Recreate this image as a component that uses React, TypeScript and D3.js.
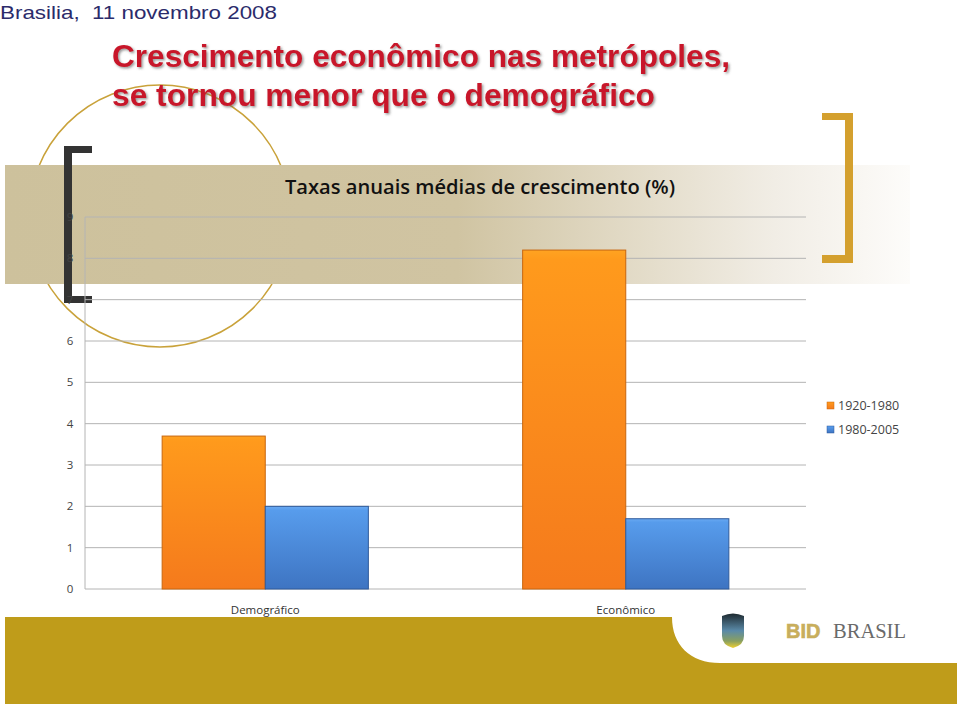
import React from "react";
import * as d3 from "d3";

const categories = ["Demográfico", "Econômico"];
const seriesNames = ["1920-1980", "1980-2005"];
const values1920to1980 = [3.7, 8.2];
const values1980to2005 = [2.0, 1.7];
const yTicks = [0, 1, 2, 3, 4, 5, 6, 7, 8, 9];

const W = 960;
const H = 706;

export default function App() {
  const x0 = d3.scaleBand<string>().domain(categories).range([85, 806]);
  const groupW = x0.bandwidth() * 0.572;
  const x1 = d3.scaleBand<string>().domain(seriesNames).range([0, groupW]);
  const y = d3.scaleLinear().domain([0, 9]).range([589, 217]);
  const seriesValues = [values1920to1980, values1980to2005];
  const fills = ["url(#gOrange)", "url(#gBlue)"];
  const strokes = ["#c8660e", "#2f5a9a"];

  const bottomPath = d3.path();
  bottomPath.moveTo(5, 617);
  bottomPath.lineTo(672, 617);
  bottomPath.bezierCurveTo(672, 645, 690, 663, 720, 663);
  bottomPath.lineTo(957, 663);
  bottomPath.lineTo(957, 704);
  bottomPath.lineTo(5, 704);
  bottomPath.closePath();

  return (
    <svg
      width={W}
      height={H}
      style={{ position: "absolute", left: 0, top: 0, display: "block", background: "#fff" }}
    >
      <defs>
        <linearGradient id="band" x1="0" x2="1" y1="0" y2="0">
          <stop offset="0" stopColor="#cdc19c" />
          <stop offset="0.5" stopColor="#d0c4a2" />
          <stop offset="0.85" stopColor="#f1ede5" />
          <stop offset="1" stopColor="#fdfcfa" />
        </linearGradient>
        <linearGradient id="gOrange" x1="0" x2="0" y1="0" y2="1">
          <stop offset="0" stopColor="#ffa321" />
          <stop offset="0.03" stopColor="#ff9a1c" />
          <stop offset="1" stopColor="#f57a1c" />
        </linearGradient>
        <linearGradient id="gBlue" x1="0" x2="0" y1="0" y2="1">
          <stop offset="0" stopColor="#6aaaf2" />
          <stop offset="0.05" stopColor="#579cec" />
          <stop offset="1" stopColor="#3e74c2" />
        </linearGradient>
        <linearGradient id="shield" x1="0" x2="0" y1="0" y2="1">
          <stop offset="0" stopColor="#1e2a30" />
          <stop offset="0.5" stopColor="#5a8aa8" />
          <stop offset="0.8" stopColor="#8aa060" />
          <stop offset="1" stopColor="#f0d030" />
        </linearGradient>
        <filter id="shadow" x="-5%" y="-20%" width="110%" height="140%">
          <feDropShadow dx="1.5" dy="1.5" stdDeviation="0.8" floodColor="#555" floodOpacity="0.6" />
        </filter>
      </defs>

      {/* header */}
      <text x={0} y={19} fontFamily="Liberation Sans, Arial, sans-serif" fontSize={19} fill="#2b2b6b" textLength={277} lengthAdjust="spacingAndGlyphs" xmlSpace="preserve">
        Brasilia,  11 novembro 2008
      </text>

      {/* decorative circle */}
      <circle cx={160} cy={216} r={131} fill="none" stroke="#c9a23a" strokeWidth={1.5} />

      {/* tan band */}
      <rect x={5} y={165} width={905} height={119} fill="url(#band)" />

      {/* left dark bracket */}
      <path d="M64,146 H92 V153 H72 V296 H92 V303 H64 Z" fill="#333333" />
      {/* right gold bracket */}
      <path d="M822,113 H853 V263 H822 V255 H845 V120 H822 Z" fill="#d4a02e" />

      {/* title */}
      <g filter="url(#shadow)" fontFamily="Liberation Sans, Arial, sans-serif" fontWeight="bold" fontSize={31} fill="#c8192b">
        <text x={112} y={67} textLength={618} lengthAdjust="spacingAndGlyphs">Crescimento econômico nas metrópoles,</text>
        <text x={112} y={106} textLength={543} lengthAdjust="spacingAndGlyphs">se tornou menor que o demográfico</text>
      </g>

      {/* chart title */}
      <text x={480} y={194} textAnchor="middle" fontFamily="Open Sans, Lato, sans-serif" fontWeight={600} fontSize={19} fill="#111" textLength={390} lengthAdjust="spacingAndGlyphs">
        Taxas anuais médias de crescimento (%)
      </text>

      {/* gridlines */}
      {yTicks.map((t) => (
        <g key={t}>
          <line x1={85} x2={806} y1={y(t)} y2={y(t)} stroke="#b4b4b4" strokeWidth={1} />
          <text x={70} y={y(t) + 4} textAnchor="middle" fontFamily="Open Sans, Lato, sans-serif" fontSize={11.5} fill="#444">
            {t}
          </text>
        </g>
      ))}
      <line x1={85} x2={85} y1={y(9)} y2={y(0)} stroke="#b4b4b4" strokeWidth={1} />

      {/* bars */}
      {categories.map((c, ci) => {
        const gx = (x0(c) as number) + (x0.bandwidth() - groupW) / 2;
        return (
          <g key={c}>
            {seriesNames.map((s, si) => {
              const v = seriesValues[si][ci];
              return (
                <rect
                  key={s}
                  x={gx + (x1(s) as number)}
                  y={y(v)}
                  width={x1.bandwidth()}
                  height={y(0) - y(v)}
                  fill={fills[si]}
                  stroke={strokes[si]}
                  strokeWidth={1}
                />
              );
            })}
            <text
              x={(x0(c) as number) + x0.bandwidth() / 2}
              y={614}
              textAnchor="middle"
              fontFamily="Open Sans, Lato, sans-serif"
              fontSize={11.5}
              fill="#333"
            >
              {c}
            </text>
          </g>
        );
      })}

      {/* legend */}
      {seriesNames.map((s, si) => (
        <g key={s} transform={`translate(827, ${402 + si * 24})`}>
          <rect x={0} y={0} width={7} height={7} fill={fills[si]} stroke={strokes[si]} strokeWidth={0.5} />
          <text x={11} y={8} fontFamily="Open Sans, Lato, sans-serif" fontSize={12.5} fill="#444">
            {s}
          </text>
        </g>
      ))}

      {/* bottom gold shape */}
      <path d={bottomPath.toString()} fill="#bf9c1a" />

      {/* logo */}
      <path d="M722,616 Q733,611 744,616 L744,636 Q744,645 733,648 Q722,645 722,636 Z" fill="url(#shield)" />
      <text x={786} y={638} fontFamily="Liberation Sans, Arial, sans-serif" fontWeight="bold" fontSize={20} fill="#c8ae5c" stroke="#c8ae5c" strokeWidth={0.6}>
        BID
      </text>
      <text x={833} y={638} fontFamily="Liberation Serif, Times New Roman, serif" fontSize={20} fill="#6a6a6a" textLength={73} lengthAdjust="spacingAndGlyphs">
        BRASIL
      </text>
    </svg>
  );
}
